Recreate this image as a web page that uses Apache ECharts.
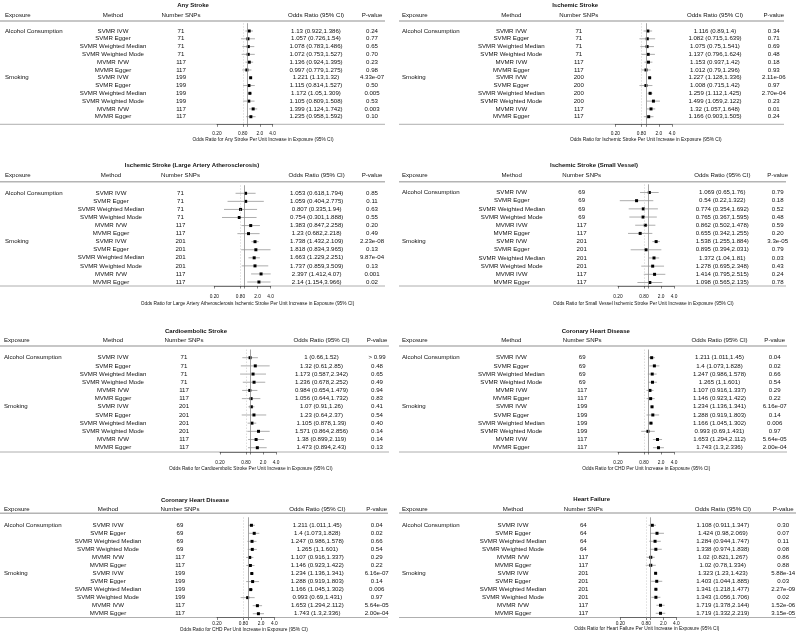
<!DOCTYPE html>
<html><head><meta charset="utf-8">
<script src="https://cdn.jsdelivr.net/npm/echarts@6/dist/echarts.min.js"></script>
<style>html,body{margin:0;padding:0;background:#fff}#c{width:796px;height:642px}</style>
</head><body><div id="c"></div>
<script>
// ---------- data ----------
const exposures = ['Alcohol Consumption', 'Smoking'];
const exposureStartRows = [0, 6];
const methods = ['SVMR IVW','SVMR Egger','SVMR Weighted Median','SVMR Weighted Mode','MVMR IVW','MVMR Egger',
                 'SVMR IVW','SVMR Egger','SVMR Weighted Median','SVMR Weighted Mode','MVMR IVW','MVMR Egger'];
const tickValues = [0.2, 0.8, 1, 2, 4];
const tickLabelValues = [0.2, 0.8, 2, 4];
const tickLabelTexts = ['0.20', '0.80', '2.0', '4.0'];

const panelTitles = ['Any Stroke','Ischemic Stroke','Ischemic Stroke (Large Artery Atherosclerosis)','Ischemic Stroke (Small Vessel)',
                     'Cardioembolic Stroke','Coronary Heart Disease','Coronary Heart Disease','Heart Failure'];
const axisTitles = [
  'Odds Ratio for Any Stroke Per Unit Increase in Exposure (95% CI)',
  'Odds Ratio for Ischemic Stroke Per Unit Increase in Exposure (95% CI)',
  'Odds Ratio for Large Artery Atherosclerosis Ischemic Stroke Per Unit Increase in Exposure (95% CI)',
  'Odds Ratio for Small Vessel Ischemic Stroke Per Unit Increase in Exposure (95% CI)',
  'Odds Ratio for Cardioembolic Stroke Per Unit Increase in Exposure (95% CI)',
  'Odds Ratio for CHD Per Unit Increase in Exposure (95% CI)',
  'Odds Ratio for CHD Per Unit Increase in Exposure (95% CI)',
  'Odds Ratio for Heart Failure Per Unit Increase in Exposure (95% CI)'
];
const headers = ['Exposure', 'Method', 'Number SNPs', 'Odds Ratio (95% CI)', 'P-value'];

// Any Stroke
const anySnps = [71,71,71,71,117,117,199,199,199,199,117,117];
const anyOR   = [1.13,1.057,1.078,1.072,1.136,0.997,1.221,1.115,1.172,1.105,1.399,1.235];
const anyLo   = [0.922,0.726,0.783,0.753,0.924,0.779,1.13,0.814,1.05,0.809,1.124,0.958];
const anyHi   = [1.386,1.54,1.486,1.527,1.395,1.275,1.32,1.527,1.309,1.508,1.742,1.592];
const anyP    = ['0.24','0.77','0.65','0.70','0.23','0.98','4.33e-07','0.50','0.005','0.53','0.003','0.10'];
// Ischemic Stroke
const isSnps = [71,71,71,71,117,117,200,200,200,200,117,117];
const isOR   = [1.116,1.082,1.075,1.137,1.153,1.012,1.227,1.008,1.259,1.499,1.32,1.166];
const isLo   = [0.89,0.715,0.75,0.796,0.937,0.79,1.128,0.715,1.112,1.059,1.057,0.903];
const isHi   = [1.4,1.639,1.541,1.624,1.42,1.296,1.336,1.42,1.425,2.122,1.648,1.505];
const isP    = ['0.34','0.71','0.69','0.48','0.18','0.93','2.11e-06','0.97','2.70e-04','0.23','0.01','0.24'];
// Large Artery Atherosclerosis
const laaSnps = [71,71,71,71,117,117,201,201,201,201,117,117];
const laaOR   = [1.053,1.059,0.807,0.754,1.383,1.23,1.738,1.818,1.663,1.737,2.397,2.14];
const laaLo   = [0.618,0.404,0.335,0.301,0.847,0.682,1.432,0.834,1.229,0.859,1.412,1.154];
const laaHi   = [1.794,2.775,1.94,1.888,2.258,2.218,2.109,3.965,2.251,3.509,4.07,3.966];
const laaP    = ['0.85','0.11','0.63','0.55','0.20','0.49','2.23e-08','0.13','9.87e-04','0.13','0.001','0.02'];
// Small Vessel
const svSnps = [69,69,69,69,117,117,201,201,201,201,117,117];
const svOR   = [1.069,0.54,0.774,0.765,0.862,0.655,1.538,0.895,1.372,1.278,1.414,1.098];
const svLo   = [0.65,0.22,0.354,0.367,0.502,0.342,1.255,0.394,1.04,0.695,0.795,0.565];
const svHi   = [1.76,1.322,1.692,1.595,1.478,1.255,1.884,2.031,1.81,2.348,2.515,2.135];
const svP    = ['0.79','0.18','0.52','0.48','0.59','0.20','3.3e-05','0.79','0.03','0.43','0.24','0.78'];
// Cardioembolic
const ceSnps = [71,71,71,71,117,117,201,201,201,201,117,117];
const ceOR   = [1,1.32,1.173,1.236,0.984,1.056,1.07,1.23,1.105,1.571,1.38,1.473];
const ceLo   = [0.66,0.61,0.587,0.678,0.654,0.644,0.91,0.64,0.878,0.864,0.899,0.894];
const ceHi   = [1.52,2.85,2.342,2.252,1.479,1.732,1.26,2.37,1.39,2.856,2.119,2.43];
const ceP    = ['> 0.99','0.48','0.65','0.49','0.94','0.83','0.41','0.54','0.40','0.14','0.14','0.13'];
// Coronary Heart Disease
const chdSnps = [69,69,69,69,117,117,199,199,199,199,117,117];
const chdOR   = [1.211,1.4,1.247,1.265,1.107,1.146,1.234,1.288,1.166,0.993,1.653,1.743];
const chdLo   = [1.011,1.073,0.986,1,0.916,0.923,1.136,0.919,1.045,0.69,1.294,1.3];
const chdHi   = [1.45,1.828,1.578,1.601,1.337,1.422,1.341,1.803,1.302,1.431,2.112,2.336];
const chdP    = ['0.04','0.02','0.66','0.54','0.29','0.22','6.16e-07','0.14','0.006','0.97','5.64e-05','2.00e-04'];
// Heart Failure
const hfSnps = [64,64,64,64,117,117,201,201,201,201,117,117];
const hfOR   = [1.108,1.424,1.284,1.338,1.02,1.02,1.323,1.403,1.341,1.343,1.719,1.719];
const hfLo   = [0.911,0.98,0.944,0.974,0.821,0.78,1.23,1.044,1.218,1.056,1.378,1.332];
const hfHi   = [1.347,2.069,1.747,1.838,1.267,1.334,1.423,1.885,1.477,1.706,2.144,2.219];
const hfP    = ['0.30','0.07','0.11','0.08','0.86','0.88','5.88e-14','0.03','2.27e-09','0.02','1.52e-06','3.15e-05'];

const panelData = [
  {snps: anySnps, or: anyOR, lo: anyLo, hi: anyHi, p: anyP},
  {snps: isSnps, or: isOR, lo: isLo, hi: isHi, p: isP},
  {snps: laaSnps, or: laaOR, lo: laaLo, hi: laaHi, p: laaP},
  {snps: svSnps, or: svOR, lo: svLo, hi: svHi, p: svP},
  {snps: ceSnps, or: ceOR, lo: ceLo, hi: ceHi, p: ceP},
  {snps: chdSnps, or: chdOR, lo: chdLo, hi: chdHi, p: chdP},
  {snps: chdSnps, or: chdOR, lo: chdLo, hi: chdHi, p: chdP},
  {snps: hfSnps, or: hfOR, lo: hfLo, hi: hfHi, p: hfP}
];

// ---------- layout (pixel positions) ----------
const layout = [
  {titleX:193, titleY:5, hdrY:15.3, hdrRule:21, botRule:124.3, rx0:0, rx1:385, exX:5, mX:113, nX:181, orX:316, pX:372, y0:31, y11:116.7, f0:217, f1:272.7, lblY:133.3, axX:263, axY:140},
  {titleX:575.2, titleY:5, hdrY:15.3, hdrRule:21, botRule:124.3, rx0:399, rx1:784, exX:402, mX:511.3, nX:578.8, orX:715, pX:773.8, y0:31, y11:116.7, f0:615.3, f1:672, lblY:133.3, axX:645.8, axY:140},
  {titleX:192, titleY:165, hdrY:175.3, hdrRule:181.7, botRule:286, rx0:0, rx1:385, exX:5, mX:111, nX:180.5, orX:316.7, pX:372, y0:193.3, y11:282, f0:214.3, f1:270.7, lblY:296.7, axX:247.5, axY:304},
  {titleX:594, titleY:165, hdrY:175.3, hdrRule:181.7, botRule:286, rx0:399, rx1:786, exX:402, mX:511.7, nX:581.7, orX:722.3, pX:777.7, y0:192.5, y11:282.5, f0:618, f1:674, lblY:296.7, axX:643.3, axY:304},
  {titleX:196, titleY:331, hdrY:340, hdrRule:346, botRule:452, rx0:0, rx1:389, exX:4, mX:113, nX:184, orX:321.5, pX:377, y0:357.7, y11:447.7, f0:220, f1:276, lblY:462.3, axX:250.8, axY:469},
  {titleX:595.8, titleY:331, hdrY:340, hdrRule:346, botRule:452, rx0:399, rx1:787, exX:402, mX:511.3, nX:582.2, orX:719.5, pX:774.7, y0:357.7, y11:447.7, f0:618, f1:674, lblY:462.3, axX:646.3, axY:469},
  {titleX:195, titleY:500, hdrY:509.3, hdrRule:513.3, botRule:617.5, rx0:0, rx1:388, exX:4, mX:108, nX:180, orX:317.3, pX:376.7, y0:525.3, y11:613.7, f0:217, f1:274.3, lblY:623.3, axX:243.8, axY:629.3},
  {titleX:591.7, titleY:499, hdrY:509.3, hdrRule:513, botRule:617.5, rx0:399, rx1:796, exX:402, mX:513, nX:583.3, orX:722.8, pX:783.2, y0:525.3, y11:613.3, f0:620.3, f1:676.3, lblY:623.3, axX:646.8, axY:629}
];

const FONT = '"Liberation Sans", Arial, Helvetica, sans-serif';
const TXT = '#111111';
const BODY = 6.1, AXF = 4.8;

function txt(x, y, text, opts) {
  opts = opts || {};
  return {
    type: 'text', x: x, y: y, silent: true,
    style: {
      text: text, fill: opts.fill || TXT,
      fontSize: opts.size || BODY, fontFamily: FONT, fontWeight: opts.weight || 'normal',
      align: opts.align || 'center', verticalAlign: 'middle',
      textAlign: opts.align || 'center', textVerticalAlign: 'middle'
    }
  };
}
function hline(x0, x1, y, color, w) {
  return {type: 'line', silent: true, shape: {x1: x0, y1: y, x2: x1, y2: y}, style: {stroke: color, lineWidth: w}};
}

const grids = [], xAxes = [], yAxes = [], series = [], graphics = [];
layout.forEach(function (L, k) {
  const d = panelData[k];
  const dy = (L.y11 - L.y0) / 11;
  const T = L.y0 - dy, B = L.botRule;
  grids.push({left: L.f0, width: L.f1 - L.f0, top: T, height: B - T, containLabel: false});
  xAxes.push({
    type: 'log', logBase: 10, min: 0.2, max: 4, gridIndex: k, position: 'bottom',
    axisLine: {show: true, onZero: false, lineStyle: {color: '#333', width: 0.6}},
    axisTick: {show: true, customValues: tickValues, length: 2.5, lineStyle: {color: '#333', width: 0.6}},
    axisLabel: {
      show: true, customValues: tickLabelValues, fontSize: AXF, fontFamily: FONT, color: TXT,
      margin: Math.max(1, L.lblY - L.botRule - 2.6),
      formatter: function (v) {
        for (let j = 0; j < tickLabelValues.length; j++) if (Math.abs(tickLabelValues[j] - v) < 1e-6) return tickLabelTexts[j];
        return '';
      }
    },
    splitLine: {show: false}, minorTick: {show: false}, minorSplitLine: {show: false}
  });
  yAxes.push({type: 'value', gridIndex: k, inverse: true, min: -1, max: 11 + (B - L.y11) / dy, show: false,
              axisLine: {onZero: false}});

  series.push({
    type: 'custom', xAxisIndex: k, yAxisIndex: k, clip: false, silent: true,
    data: d.or.map(function (v, i) { return [v, i]; }),
    encode: {x: 0, y: 1},
    renderItem: function (params, api) {
      const i = params.dataIndex;
      const c = api.coord([api.value(0), api.value(1)]);
      const a = api.coord([Math.max(d.lo[i], 0.2), i]);
      const b = api.coord([Math.min(d.hi[i], 4), i]);
      const y = c[1];
      const children = [
        {type: 'line', shape: {x1: a[0], y1: y, x2: b[0], y2: y}, style: {stroke: '#8a8a8a', lineWidth: 0.7}},
        {type: 'rect', shape: {x: c[0] - 1.5, y: y - 1.5, width: 3, height: 3}, style: {fill: '#000'}},
        txt(L.mX, y, methods[i]),
        txt(L.nX, y, String(d.snps[i])),
        txt(L.orX, y, d.or[i] + ' (' + d.lo[i] + ',' + d.hi[i] + ')'),
        txt(L.pX, y, d.p[i])
      ];
      const g = exposureStartRows.indexOf(i);
      if (g >= 0) children.push(txt(L.exX, y, exposures[g], {align: 'left'}));
      return {type: 'group', children: children};
    },
    markLine: {
      silent: true, symbol: 'none', label: {show: false}, animation: false,
      data: [
        {xAxis: 0.8, lineStyle: {color: '#c8c8c8', type: [1.5, 1.5], width: 0.6}},
        {xAxis: 1, lineStyle: {color: '#8c8c8c', type: 'solid', width: 0.8}}
      ]
    }
  });

  graphics.push(txt(L.titleX, L.titleY, panelTitles[k], {weight: 'bold', size: 6}));
  graphics.push(txt(L.exX, L.hdrY, headers[0], {align: 'left'}));
  graphics.push(txt(L.mX, L.hdrY, headers[1]));
  graphics.push(txt(L.nX, L.hdrY, headers[2]));
  graphics.push(txt(L.orX, L.hdrY, headers[3]));
  graphics.push(txt(L.pX, L.hdrY, headers[4]));
  graphics.push(hline(L.rx0, L.rx1, L.hdrRule, '#b4b4b4', 1.5));
  graphics.push(hline(L.rx0, L.rx1, L.botRule, '#9a9a9a', 0.8));
  graphics.push(txt(L.axX, L.axY, axisTitles[k], {size: AXF}));
});

const chart = echarts.init(document.getElementById('c'), null, {renderer: 'canvas'});
chart.setOption({
  animation: false,
  backgroundColor: '#ffffff',
  grid: grids, xAxis: xAxes, yAxis: yAxes, series: series,
  graphic: {elements: graphics}
});
</script>
</body></html>
